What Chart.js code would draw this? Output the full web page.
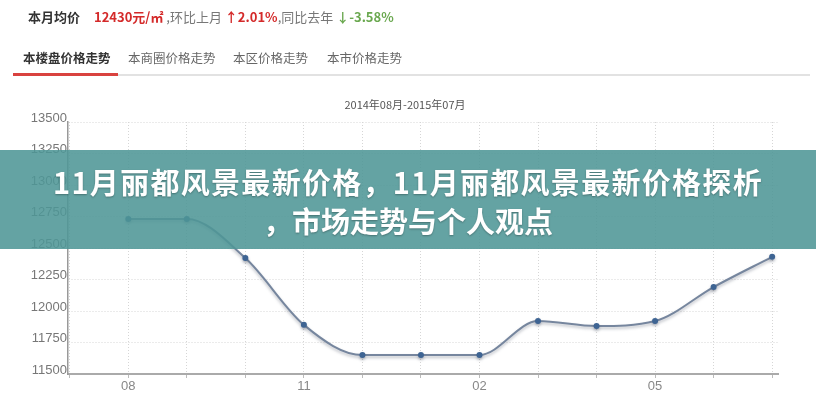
<!DOCTYPE html>
<html>
<head>
<meta charset="utf-8">
<script src="https://cdn.jsdelivr.net/npm/chart.js@4"></script>
<style>
  html, body { margin: 0; padding: 0; background: #fff; }
  body { width: 816px; height: 400px; position: relative; overflow: hidden;
         font-family: "Noto Sans CJK SC", "Noto Sans", sans-serif; }
  #wrap { position: absolute; left: 0; top: 0; width: 816px; height: 400px; }
  .abs { position: absolute; white-space: nowrap; line-height: 1; }
  .summary { top: 10px; left: 28px; font-size: 13px; color: #777; }
  .summary b { color: #333; margin-right: 14px; }
  .summary .red { color: #d42a2a; font-weight: bold; }
  .summary .green { color: #6aa84f; font-weight: bold; }
  .tab { top: 52px; font-size: 12.5px; color: #666; }
  .tab.on { color: #333; font-weight: bold; }
  #tabline { position: absolute; left: 13px; top: 74px; width: 797px; height: 2px; background: #e2e2e2; }
  #tabred { position: absolute; left: 13px; top: 73px; width: 105px; height: 3px; background: #d9423f; }
  #period { top: 99px; left: 0; width: 810px; text-align: center; font-size: 11px; color: #555; }
  #banner { position: absolute; left: 0; top: 150px; width: 816px; height: 99px;
            background: rgba(78, 150, 150, 0.88); z-index: 5; }
  #banner div { position: absolute; left: 0; width: 816px; text-align: center; color: #fff;
                font-weight: bold; font-size: 29px; line-height: 1;
                text-shadow: 0 1px 2px rgba(0,0,0,0.3); }
</style>
</head>
<body>
<div id="wrap"><canvas id="chart" width="816" height="400"></canvas></div>

<div class="abs summary"><b>本月均价</b><span class="red">12430元/㎡</span> ,环比上月 <span class="red">↑2.01%</span>,同比去年 <span class="green">↓-3.58%</span></div>
<div class="abs tab on" style="left:23px">本楼盘价格走势</div>
<div class="abs tab" style="left:128px">本商圈价格走势</div>
<div class="abs tab" style="left:233px">本区价格走势</div>
<div class="abs tab" style="left:327px">本市价格走势</div>
<div id="tabline"></div>
<div id="tabred"></div>
<div class="abs" id="period">2014年08月-2015年07月</div>

<div id="banner">
  <div style="top:17px; letter-spacing:1.3px">11月丽都风景最新价格，11月丽都风景最新价格探析</div>
  <div style="top:56px">，市场走势与个人观点</div>
</div>

<script>
// months from 2014-08 to 2015-07
const months = ['08', '09', '10', '11', '12', '01', '02', '03', '04', '05', '06', '07'];
// average price per month (yuan / m2)
const prices = [12730, 12730, 12420, 11890, 11650, 11650, 11650, 11920, 11880, 11920, 12190, 12430];
// y axis range
const yMin = 11500;
const yMax = 13500;
const yStep = 250;

const points = prices.map((v, i) => ({ x: i, y: v }));

// soft shadow under the line
const lineShadow = {
    id: 'lineShadow',
    beforeDatasetsDraw(chart) {
        const ctx = chart.ctx;
        ctx.save();
        ctx.shadowColor = 'rgba(60, 70, 90, 0.35)';
        ctx.shadowBlur = 3;
        ctx.shadowOffsetY = 2;
    },
    afterDatasetsDraw(chart) {
        chart.ctx.restore();
    }
};

new Chart(document.getElementById('chart'), {
    type: 'line',
    data: {
        datasets: [{
            data: points,
            borderColor: '#76869e',
            borderWidth: 2,
            cubicInterpolationMode: 'monotone',
            pointRadius: 3,
            pointBackgroundColor: '#3e6493',
            pointBorderWidth: 0,
            fill: false
        }]
    },
    options: {
        responsive: false,
        animation: false,
        layout: { padding: { top: 122, right: 38, left: 0, bottom: 0 } },
        plugins: { legend: { display: false }, tooltip: { enabled: false } },
        scales: {
            x: {
                type: 'linear',
                min: -1.03,
                max: 11.1,
                afterFit: s => { s.height = 26; },
                ticks: {
                    stepSize: 1,
                    includeBounds: false,
                    autoSkip: false,
                    maxRotation: 0,
                    padding: 1,
                    color: '#888',
                    font: { family: 'Liberation Sans', size: 13 },
                    callback: v => (Number.isInteger(v) && v >= 0 && v % 3 === 0) ? months[v] : ''
                },
                grid: { color: '#d6d6d6', tickLength: 4, tickColor: '#bbb', tickBorderDash: [] },
                border: { display: true, color: '#aaa', width: 2, dash: [1, 2] }
            },
            y: {
                min: yMin,
                max: yMax,
                afterFit: s => { s.width = 68; },
                ticks: {
                    stepSize: yStep,
                    padding: 1,
                    labelOffset: -4,
                    color: '#777',
                    font: { family: 'Liberation Sans', size: 13 },
                    callback: v => String(v)
                },
                grid: { color: '#d6d6d6', drawTicks: false },
                border: { display: true, color: '#999', width: 1.5, dash: [1, 2] }
            }
        }
    },
    plugins: [lineShadow]
});
</script>
</body>
</html>
